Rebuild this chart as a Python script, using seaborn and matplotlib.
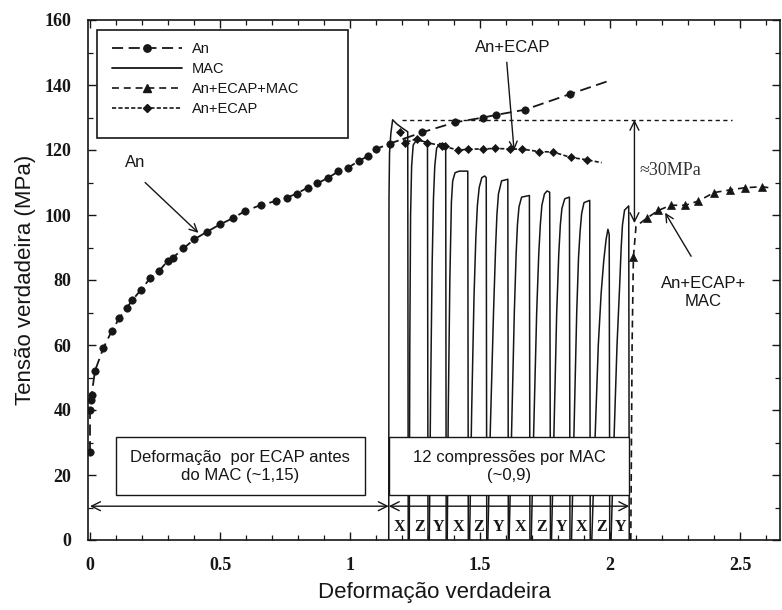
import matplotlib
matplotlib.use("Agg")
import matplotlib.pyplot as plt
from matplotlib.lines import Line2D
from matplotlib.patches import Rectangle
import pandas as pd
import seaborn as sns

# ---------------- data ----------------
# Annealed (An) tension curve
AN_STRAIN = [0.000, 0.000, 0.003, 0.006, 0.019, 0.051, 0.083, 0.113, 0.141, 0.163,
             0.196, 0.231, 0.265, 0.300, 0.318, 0.359, 0.401, 0.449, 0.500, 0.549,
             0.596, 0.658, 0.715, 0.757, 0.795, 0.837, 0.874, 0.917, 0.955, 0.993,
             1.036, 1.070, 1.100, 1.154, 1.276, 1.404, 1.513, 1.562, 1.673, 1.846,
             2.000]
AN_STRESS = [27.0, 40.0, 43.0, 44.5, 52.0, 59.0, 64.2, 68.3, 71.4, 73.8,
             77.0, 80.5, 82.7, 86.0, 86.8, 89.7, 92.5, 94.8, 97.1, 99.0,
             101.2, 103.1, 104.3, 105.3, 106.6, 108.4, 109.7, 111.5, 113.4, 114.6,
             116.7, 118.2, 120.3, 122.0, 125.4, 128.5, 130.0, 130.8, 132.4, 137.2,
             141.4]

# An + ECAP curve
ECAP_STRAIN = [1.192, 1.212, 1.256, 1.295, 1.352, 1.365, 1.417, 1.455, 1.510, 1.558,
               1.615, 1.660, 1.728, 1.780, 1.850, 1.910, 1.968]
ECAP_STRESS = [125.4, 122.3, 123.4, 122.3, 121.3, 121.1, 119.9, 120.3, 120.3, 120.5,
               120.3, 120.3, 119.5, 119.4, 117.7, 117.0, 116.1]

# An + ECAP + MAC curve
ECAPMAC_STRAIN = [2.080, 2.085, 2.090, 2.100, 2.141, 2.186, 2.233, 2.290, 2.340, 2.400,
                  2.460, 2.520, 2.586, 2.627]
ECAPMAC_STRESS = [0.0, 60.0, 87.0, 96.5, 99.0, 101.4, 103.0, 103.0, 104.3, 106.9,
                  107.7, 108.4, 108.7, 108.2]

# Twelve MAC compression cycles (strain, stress per cycle)
MAC_STRAIN = [
    [1.149, 1.150, 1.152, 1.157, 1.164, 1.180, 1.200, 1.222, 1.224],
    [1.228, 1.230, 1.233, 1.237, 1.243, 1.255, 1.275, 1.298, 1.300],
    [1.305, 1.310, 1.316, 1.321, 1.326, 1.333, 1.345, 1.368, 1.370],
    [1.374, 1.378, 1.384, 1.390, 1.395, 1.404, 1.420, 1.453, 1.455],
    [1.460, 1.468, 1.477, 1.484, 1.490, 1.497, 1.507, 1.518, 1.524, 1.526],
    [1.530, 1.540, 1.552, 1.560, 1.565, 1.571, 1.583, 1.607, 1.609],
    [1.612, 1.622, 1.632, 1.639, 1.644, 1.650, 1.660, 1.690, 1.692],
    [1.697, 1.707, 1.718, 1.726, 1.732, 1.738, 1.748, 1.758, 1.768, 1.771],
    [1.775, 1.785, 1.795, 1.803, 1.809, 1.815, 1.826, 1.844, 1.846],
    [1.852, 1.862, 1.872, 1.879, 1.885, 1.891, 1.900, 1.922, 1.924],
    [1.930, 1.942, 1.955, 1.966, 1.976, 1.985, 1.992, 1.997, 1.999],
    [2.004, 2.015, 2.027, 2.037, 2.043, 2.048, 2.056, 2.072, 2.074],
]
MAC_STRESS = [
    [0.0, 105.0, 119.0, 125.0, 129.3, 128.0, 126.8, 125.6, 0.0],
    [0.0, 60.0, 100.0, 115.0, 121.5, 123.0, 122.8, 122.3, 0.0],
    [0.0, 45.0, 85.0, 105.0, 115.0, 120.5, 122.0, 121.8, 0.0],
    [0.0, 40.0, 80.0, 104.0, 110.5, 113.0, 113.5, 113.5, 0.0],
    [0.0, 40.0, 75.0, 93.0, 103.0, 108.5, 111.5, 112.0, 111.5, 0.0],
    [0.0, 35.0, 70.0, 90.0, 100.0, 106.5, 110.5, 111.0, 0.0],
    [0.0, 35.0, 70.0, 88.0, 97.0, 102.5, 105.5, 106.0, 0.0],
    [0.0, 35.0, 70.0, 88.0, 97.0, 103.0, 106.5, 107.4, 107.0, 0.0],
    [0.0, 35.0, 70.0, 88.0, 97.0, 102.0, 105.0, 105.5, 0.0],
    [0.0, 35.0, 70.0, 87.0, 95.0, 100.5, 103.8, 104.5, 0.0],
    [0.0, 30.0, 60.0, 76.0, 86.0, 92.5, 95.6, 94.0, 0.0],
    [0.0, 30.0, 60.0, 78.0, 90.0, 97.0, 101.5, 102.8, 0.0],
]
MAC_AXES = ["X", "Z", "Y", "X", "Z", "Y", "X", "Z", "Y", "X", "Z", "Y"]

PEAK_STRESS = 129.3      # first-compression peak
ECAP_STRAIN_TOTAL = 1.149
X_TICKS = [0, 0.5, 1, 1.5, 2, 2.5]
Y_TICKS = [0, 20, 40, 60, 80, 100, 120, 140, 160]
LEGEND_LABELS = ["An", "MAC", "An+ECAP+MAC", "An+ECAP"]

# ---------------- style ----------------
sns.set_style("ticks")
plt.rcParams["font.family"] = ["Liberation Sans", "DejaVu Sans"]
plt.rcParams["lines.scale_dashes"] = False
INK = "#161616"
SERIF = ["Liberation Serif", "DejaVu Serif"]

fig = plt.figure(figsize=(7.82, 6.10), dpi=100)
ax = fig.add_axes([88 / 782, (610 - 540) / 610, 692 / 782, 520 / 610])

an_df = pd.DataFrame({"strain": AN_STRAIN, "stress": AN_STRESS})
ecap_df = pd.DataFrame({"strain": ECAP_STRAIN, "stress": ECAP_STRESS})
ecapmac_df = pd.DataFrame({"strain": ECAPMAC_STRAIN, "stress": ECAPMAC_STRESS})
mac_df = pd.DataFrame({
    "strain": [v for cyc in MAC_STRAIN for v in cyc],
    "stress": [v for cyc in MAC_STRESS for v in cyc],
    "cycle": [i for i, cyc in enumerate(MAC_STRAIN) for _ in cyc],
})

AN_DASH = (0, (8, 4))
ECAPMAC_DASH = (0, (5, 3.5))
ECAP_DASH = (0, (3, 1.6))

sns.lineplot(data=mac_df, x="strain", y="stress", units="cycle", estimator=None,
             sort=False, color=INK, lw=1.1, ax=ax, zorder=3)
sns.lineplot(data=an_df, x="strain", y="stress", estimator=None, sort=False,
             color=INK, lw=1.3, linestyle=AN_DASH, marker="o", markersize=5.3,
             markeredgecolor=INK, markeredgewidth=0.5,
             markevery=list(range(len(AN_STRAIN) - 1)), ax=ax, zorder=4)
sns.lineplot(data=ecap_df, x="strain", y="stress", estimator=None, sort=False,
             color=INK, lw=1.2, linestyle=ECAP_DASH, marker="D", markersize=4.2,
             markeredgecolor=INK, markeredgewidth=0.5,
             markevery=list(range(len(ECAP_STRAIN) - 1)), ax=ax, zorder=4)
sns.lineplot(data=ecapmac_df, x="strain", y="stress", estimator=None, sort=False,
             color=INK, lw=1.2, linestyle=ECAPMAC_DASH, marker="^", markersize=5.5,
             markeredgecolor=INK, markeredgewidth=0.5,
             markevery=[2] + list(range(4, len(ECAPMAC_STRAIN) - 1)), ax=ax, zorder=4)

# reference level of the first compression peak
ax.hlines(PEAK_STRESS, 1.20, 2.47, colors=INK, lw=1.0, linestyles=[(0, (3, 2.5))], zorder=3)

# ---------------- axes ----------------
ax.set_xlim(-2 / 260, 690 / 260)
ax.set_ylim(0, 160)
ax.set_xticks(X_TICKS, [f"{v:g}" for v in X_TICKS], fontfamily=SERIF,
              fontweight="bold", fontsize=13)
ax.set_yticks(Y_TICKS, [str(v) for v in Y_TICKS], fontfamily=SERIF,
              fontweight="bold", fontsize=13)
ax.set_xticks([i / 10 for i in range(27)], minor=True)
ax.set_yticks(list(range(0, 161, 10)), minor=True)
ax.tick_params(which="both", direction="in", top=True, right=True, color=INK,
               labelcolor=INK)
ax.tick_params(which="major", length=6, width=1.0, pad=12)
ax.tick_params(which="minor", length=3.5, width=0.9)
for sp in ax.spines.values():
    sp.set_linewidth(1.2)
    sp.set_color(INK)
ax.set_xlabel("Deformação verdadeira", fontsize=16, color=INK, labelpad=6)
ax.set_ylabel("Tensão verdadeira (MPa)", fontsize=16, color=INK, labelpad=6)

# ---------------- legend ----------------
handles = [
    Line2D([], [], color=INK, lw=1.3, linestyle=AN_DASH, marker="o", markersize=5.3),
    Line2D([], [], color=INK, lw=1.3),
    Line2D([], [], color=INK, lw=1.2, linestyle=ECAPMAC_DASH, marker="^", markersize=5.5),
    Line2D([], [], color=INK, lw=1.2, linestyle=ECAP_DASH, marker="D", markersize=4.2),
]
ax.add_patch(Rectangle((9 / 692, 1 - 118 / 520), 251 / 692, 108 / 520,
                       transform=ax.transAxes, fc="white", ec=INK, lw=1.2, zorder=6))
leg = ax.legend(handles, LEGEND_LABELS, loc="upper left",
                bbox_to_anchor=(24 / 692, 1 - 22 / 520), frameon=False,
                fontsize=10.5, handlelength=4.8, handletextpad=0.7,
                labelspacing=0.42, borderpad=0, borderaxespad=0, numpoints=1)
leg.set_zorder(7)
for t in leg.get_texts():
    t.set_color(INK)

# ---------------- annotations ----------------
arrow = dict(arrowstyle="->", color=INK, lw=1.0, mutation_scale=14, shrinkA=0, shrinkB=0)
darrow = dict(arrowstyle="<->", color=INK, lw=1.0, mutation_scale=16, shrinkA=0, shrinkB=0)

ax.text(0.173, 116.1, "An", ha="center", va="center", fontsize=12, color=INK)
ax.annotate("", xy=(0.417, 94.5), xytext=(0.212, 110.0), arrowprops=arrow)

ax.text(1.627, 151.5, "An+ECAP", ha="center", va="center", fontsize=12, color=INK)
ax.annotate("", xy=(1.631, 119.8), xytext=(1.603, 147.0), arrowprops=arrow)

ax.annotate("", xy=(2.094, PEAK_STRESS), xytext=(2.094, 97.5), arrowprops=darrow)
ax.text(2.112, 113.8, "≈30MPa", ha="left", va="center", fontsize=13,
        fontfamily=SERIF, color="#333333")

ax.text(2.36, 76.3, "An+ECAP+\nMAC", ha="center", va="center", fontsize=12,
        color=INK, linespacing=1.25)
ax.annotate("", xy=(2.212, 100.7), xytext=(2.312, 87.3), arrowprops=arrow)

# description boxes
mac_start = MAC_STRAIN[0][0]
mac_end = MAC_STRAIN[-1][-1]
ax.add_patch(Rectangle((0.099, 13.7), 0.957, 17.9, fc="white", ec=INK, lw=1.0, zorder=6))
ax.text(0.578, 22.65, "Deformação  por ECAP antes\ndo MAC (~1,15)", ha="center",
        va="center", fontsize=12, color=INK, zorder=7, linespacing=1.25)
ax.add_patch(Rectangle((mac_start, 13.7), mac_end - mac_start, 17.9, fc="white",
                       ec=INK, lw=1.0, zorder=6))
ax.text((mac_start + mac_end) / 2, 22.65, "12 compressões por MAC\n(~0,9)",
        ha="center", va="center", fontsize=12, color=INK, zorder=7, linespacing=1.25)

ax.annotate("", xy=(0.0, 10.4), xytext=(ECAP_STRAIN_TOTAL, 10.4), arrowprops=darrow)
ax.annotate("", xy=(ECAP_STRAIN_TOTAL, 10.4), xytext=(mac_end, 10.4), arrowprops=darrow)

# compression directions under each cycle
for i, axis_name in enumerate(MAC_AXES):
    lo = MAC_STRAIN[i][0]
    hi = MAC_STRAIN[i + 1][0] if i + 1 < len(MAC_STRAIN) else MAC_STRAIN[i][-1]
    ax.text((lo + hi) / 2, 4.0, axis_name, ha="center", va="center", fontsize=11.5,
            fontweight="bold", fontfamily=SERIF, color=INK, zorder=7)

fig.savefig("out.png", dpi=100)
